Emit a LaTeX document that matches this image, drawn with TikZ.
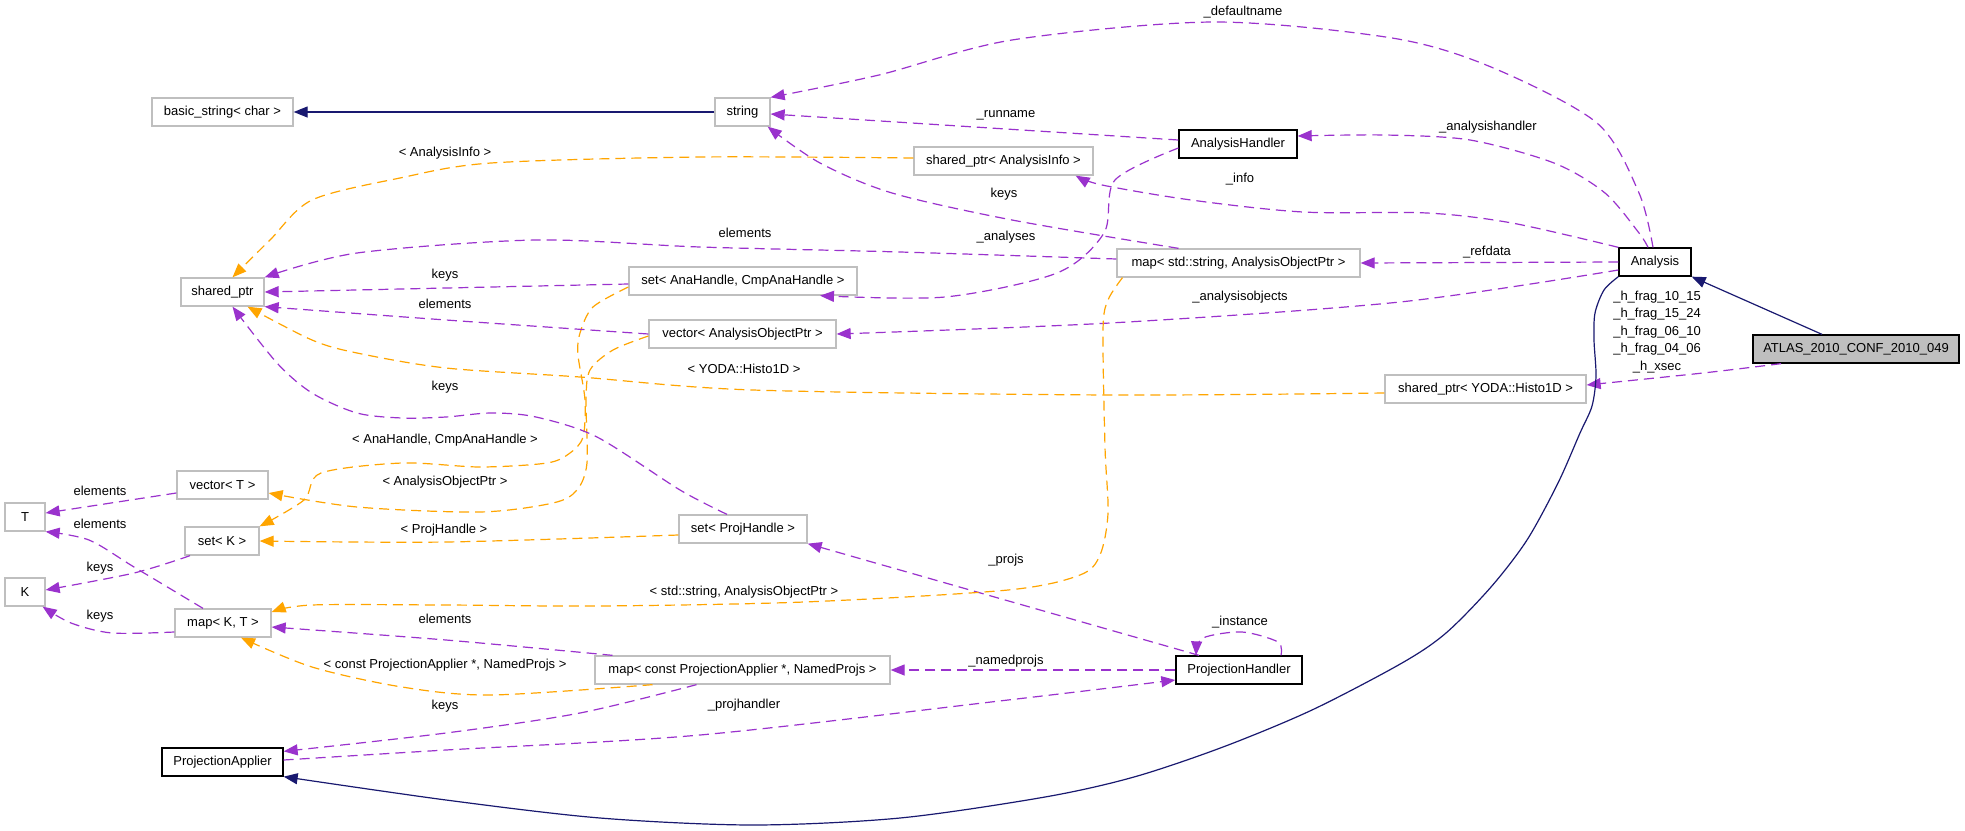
\documentclass[tikz,border=0pt]{standalone}
\usepackage{fontspec}
\setmainfont{Liberation Sans}
\usetikzlibrary{arrows.meta}
\definecolor{purp}{HTML}{9A32CD}
\definecolor{orng}{HTML}{FFA500}
\definecolor{navy}{HTML}{191970}
\definecolor{boxgray}{HTML}{BFBFBF}
\begin{document}
\begin{tikzpicture}[x=1pt,y=-1pt,
  every node/.style={font=\fontsize{13}{17.5}\selectfont},
  box/.style={draw=boxgray, fill=white, line width=1.3pt, minimum height=28pt, inner sep=0pt, anchor=center},
  cls/.style={box, draw=black},
  mem/.style={draw=purp, line width=1.2pt, dash pattern=on 10pt off 6pt, -{Triangle[length=14pt,width=11pt]}},
  tmpl/.style={draw=orng, line width=1.2pt, dash pattern=on 10pt off 6pt, -{Triangle[length=14pt,width=11pt]}},
  inh/.style={draw=navy, line width=1.2pt, -{Triangle[length=14pt,width=11pt]}},
  lbl/.style={inner sep=0pt, anchor=center, align=center}]
\path[use as bounding box, fill=white] (0,0) rectangle (1965,830);

% nodes
\node[box, minimum width=141pt] (bs) at (222.5,112) {basic\_string< char >};
\node[box, minimum width=55pt] (str) at (742.5,112) {string};
\node[cls, minimum width=118pt] (ah) at (1238,144) {AnalysisHandler};
\node[box, minimum width=179pt] (spai) at (1003.5,161) {shared\_ptr< AnalysisInfo >};
\node[box, minimum width=83pt] (sp) at (222.5,292) {shared\_ptr};
\node[box, minimum width=228pt] (setah) at (743,281) {set< AnaHandle, CmpAnaHandle >};
\node[box, minimum width=243pt] (mapstr) at (1238.5,263) {map< std::string, AnalysisObjectPtr >};
\node[cls, minimum width=72pt] (an) at (1655,262) {Analysis};
\node[box, minimum width=187pt] (vaop) at (742.5,334) {vector< AnalysisObjectPtr >};
\node[cls, fill=boxgray, minimum width=206pt] (atlas) at (1856,349) {ATLAS\_2010\_CONF\_2010\_049};
\node[box, minimum width=201pt] (spyoda) at (1485.5,389) {shared\_ptr< YODA::Histo1D >};
\node[box, minimum width=91pt] (vt) at (222.5,485) {vector< T >};
\node[box, minimum width=40pt] (nT) at (25,517) {T};
\node[box, minimum width=74pt] (setk) at (222,541) {set< K >};
\node[box, minimum width=128pt] (setph) at (743,529) {set< ProjHandle >};
\node[box, minimum width=40pt] (nK) at (25,592) {K};
\node[box, minimum width=96pt] (mapkt) at (223,623) {map< K, T >};
\node[box, minimum width=295pt] (mapc) at (742.5,670) {map< const ProjectionApplier *, NamedProjs >};
\node[cls, minimum width=126pt] (ph) at (1239,670) {ProjectionHandler};
\node[cls, minimum width=121pt] (pa) at (222.5,762) {ProjectionApplier};

% edges
\draw[inh] (str.west) -- (bs.east);
\draw[mem] plot[smooth] coordinates {([xshift=-2pt]an.north) (1639,193) (1597,123) (1491,67) (1392,38) (1213,22) (1012,40) (879,75) (str.north east)};
\node[lbl] (l1) at (1243,12) {\_defaultname};
\draw[mem] ([yshift=4pt]ah.west) -- ([yshift=-2pt]str.east);
\node[lbl] (l2) at (1006,115) {\_runname};
\draw[mem] plot[smooth] coordinates {([xshift=-7pt]an.north) (1639,233) (1605,193) (1554,163) (1470,140) (1385,135) ([yshift=8pt]ah.east)};
\node[lbl] (l3) at (1488,127) {\_analysishandler};
\draw[mem] plot[smooth] coordinates {(an.north west) (1512,223) (1427,213) (1303,212) (1191,200) (1102,185) ([xshift=-18pt]spai.south east)};
\node[lbl] (l4) at (1240,179) {\_info};
\draw[tmpl] plot[smooth] coordinates {([yshift=3pt]spai.west) (700,157) (491,163) (400,178) (312,200) (270,240) ([xshift=10pt]sp.north)};
\node[lbl] (l5) at (445,153) {< AnalysisInfo >};
\draw[mem] plot[smooth] coordinates {([xshift=-60pt]mapstr.north) (1012,220) (892,193) (820,163) ([xshift=-3pt]str.south east)};
\node[lbl] (l6) at (1004,194) {keys};
\draw[mem] plot[smooth] coordinates {([yshift=4pt]mapstr.west) (900,252) (700,247) (536,240) (357,253) (sp.north east)};
\node[lbl] (l7) at (745,233) {elements};
\draw[mem] (an.west) -- (mapstr.east);
\node[lbl] (l8) at (1487,252) {\_refdata};
\draw[mem] plot[smooth] coordinates {([yshift=-4pt]ah.west) (1115,180) (1104,233) (1057,273) (945,297) ([xshift=77pt]setah.south)};
\node[lbl] (l9) at (1006,237) {\_analyses};
\draw[mem] ([yshift=-3pt]setah.west) -- (sp.east);
\node[lbl] (l10) at (445,275) {keys};
\draw[tmpl] plot[smooth] coordinates {([yshift=-6pt]setah.west) (593,307) (580,333) (578,355) (585,400) (583,437) (570,453) (547,463) (480,467) (402,463) (321,473) (304,500) (setk.north east)};
\node[lbl] (l11) at (445,440) {< AnaHandle, CmpAnaHandle >};
\draw[mem] plot[smooth] coordinates {(vaop.west) (446,320) (sp.south east)};
\node[lbl] (l12) at (445,304) {elements};
\draw[tmpl] plot[smooth] coordinates {([yshift=-2pt]vaop.west) (613,350) (590,370) (586,400) (587,463) (577,490) (553,503) (480,512) (357,507) ([yshift=-8pt]vt.east)};
\node[lbl] (l13) at (445,482) {< AnalysisObjectPtr >};
\draw[mem] plot[smooth] coordinates {([yshift=-8pt]an.west) (1400,302) (1110,323) (vaop.east)};
\node[lbl] (l14) at (1240,297) {\_analysisobjects};
\draw[tmpl] plot[smooth] coordinates {([yshift=-4pt]spyoda.west) (1110,395) (753,390) (580,377) (446,368) (357,353) (312,340) ([xshift=25pt]sp.south)};
\node[lbl] (l15) at (744,369) {< YODA::Histo1D >};
\draw[mem] plot[smooth] coordinates {([xshift=-75pt]atlas.south) (1703,373) ([yshift=4pt]spyoda.east)};
\node[lbl] (l16) at (1657,332) {\_h\_frag\_10\_15\\\_h\_frag\_15\_24\\\_h\_frag\_06\_10\\\_h\_frag\_04\_06\\\_h\_xsec};
\draw[inh] ([xshift=-34pt]atlas.north) -- (an.south east);
\draw[inh] plot[smooth] coordinates {(an.south west) (1604,290) (1595,313) (1594,340) (1596,376) (1592,406) (1580,433) (1558,483) (1527,540) (1491,587) (1446,633) (1402,663) (1312,710) (1223,747) (1134,777) (1045,797) (900,818) (753,825) (600,818) (446,800) (pa.south east)};
\draw[tmpl] plot[smooth] coordinates {([yshift=-6pt]setph.west) (446,542) (setk.east)};
\node[lbl] (l17) at (444,530) {< ProjHandle >};
\draw[mem] plot[smooth] coordinates {([xshift=-16pt]setph.north) (680,490) (597,437) (536,417) (491,413) (446,417) (402,418) (357,413) (312,393) (277,363) ([xshift=10pt]sp.south)};
\node[lbl] (l18) at (445,387) {keys};
\draw[mem] ([xshift=-40pt]ph.north) -- (setph.south east);
\node[lbl] (l19) at (1006,560) {\_projs};
\draw[tmpl] plot[smooth] coordinates {([xshift=-116pt]mapstr.south) (1108,300) (1103,330) (1105,447) (1108,513) (1100,555) (1080,575) (1008,590) (804,602) (600,606) (446,605) (312,605) ([yshift=11pt]mapkt.east)};
\node[lbl] (l20) at (744,592) {< std::string, AnalysisObjectPtr >};
\draw[mem] plot[smooth] coordinates {([xshift=-130pt]mapc.north) (446,640) ([yshift=-4pt]mapkt.east)};
\node[lbl] (l21) at (445,619) {elements};
\draw[tmpl] plot[smooth] coordinates {([xshift=-90pt]mapc.south) (491,695) (402,687) (312,667) ([xshift=18pt]mapkt.south)};
\node[lbl] (l22) at (445,665) {< const ProjectionApplier *, NamedProjs >};
\draw[mem] plot[smooth] coordinates {([xshift=-46pt]mapc.south) (580,713) (446,733) ([yshift=-4pt]pa.north east)};
\node[lbl] (l23) at (445,706) {keys};
\draw[mem] (ph.west) -- (mapc.east);
\node[lbl] (l24) at (1006,661) {\_namedprojs};
\draw[mem] plot[smooth] coordinates {([yshift=2pt]pa.east) (446,750) (700,735) (1008,700) ([yshift=-10pt]ph.west)};
\node[lbl] (l25) at (744,705) {\_projhandler};
\draw[mem] plot[smooth] coordinates {([xshift=42pt]ph.north) (1278,642) (1242,632) (1203,638) ([xshift=-43pt]ph.north)};
\node[lbl] (l26) at (1240,622) {\_instance};
\draw[mem] plot[smooth] coordinates {([xshift=-32pt]setk.south) (134,573) ([yshift=2pt]nK.east)};
\node[lbl] (l27) at (100,568) {keys};
\draw[mem] plot[smooth] coordinates {([yshift=-9pt]mapkt.west) (112,633) (71,623) ([xshift=-3pt]nK.south east)};
\node[lbl] (l28) at (100,616) {keys};
\draw[mem] ([yshift=-8pt]vt.west) -- ([yshift=4pt]nT.east);
\node[lbl] (l29) at (100,491) {elements};
\draw[mem] plot[smooth] coordinates {([xshift=-20pt]mapkt.north) (134,567) (89,540) (nT.south east)};
\node[lbl] (l30) at (100,524) {elements};
\end{tikzpicture}
\end{document}
